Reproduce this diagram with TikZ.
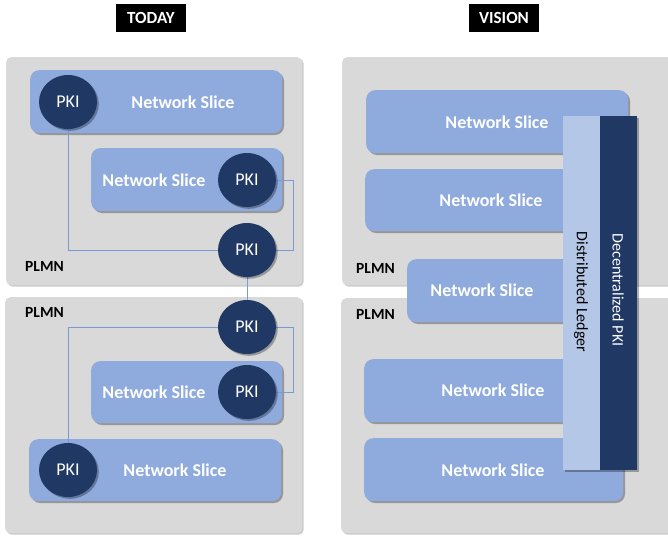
\documentclass[tikz,border=0pt]{standalone}
\usepackage{fontspec}
\setmainfont{Carlito}
\usetikzlibrary{shadows,shapes.geometric}
\definecolor{plmngray}{HTML}{D9D9D9}
\definecolor{slicefill}{HTML}{8FAADC}
\definecolor{navy}{HTML}{203864}
\definecolor{ledger}{HTML}{B4C7E7}
\definecolor{linkblue}{HTML}{7A9AD6}
\begin{document}
\begin{tikzpicture}[x=1pt,y=-1pt,
  shd/.style={drop shadow={shadow xshift=1.8pt,shadow yshift=-1.8pt,opacity=0.3,fill=black}},
  plmnbox/.style={fill=plmngray,rounded corners=5pt,inner sep=0pt,anchor=north west,
    drop shadow={shadow xshift=1.5pt,shadow yshift=-1.5pt,opacity=0.2,fill=black}},
  slicebox/.style={fill=slicefill,rounded corners=9pt,inner sep=0pt,anchor=north west,shd},
  pki/.style={ellipse,fill=navy,minimum width=58pt,minimum height=54pt,inner sep=0pt,
    text=white,font=\fontsize{18}{18}\selectfont,shd},
  slicetext/.style={text=white,font=\bfseries\fontsize{18}{20}\selectfont},
  plmntext/.style={anchor=west,inner sep=0pt,font=\bfseries\fontsize{15.5}{16}\selectfont},
  titlebox/.style={fill=black,text=white,minimum width=70pt,minimum height=28pt,inner sep=0pt,
    font=\bfseries\fontsize{17}{17}\selectfont},
  barbox/.style={inner sep=0pt,anchor=north west,minimum width=37pt,minimum height=354pt,shd},
  link/.style={draw=linkblue,line width=0.8pt}]
\clip (0,0) rectangle (668,535);
\fill[white] (0,0) rectangle (668,535);

% titles
\node[titlebox] (today) at (151,18) {TODAY};
\node[titlebox] (vision) at (504,18) {VISION};

% ---------- TODAY ----------
\node[plmnbox,minimum width=296pt,minimum height=228pt] (gl1) at (6,57) {};
\node[plmnbox,minimum width=297pt,minimum height=236pt] (gl2) at (5,297) {};
\node[plmntext] (pl1) at (25,266) {PLMN};
\node[plmntext] (pl2) at (25,312) {PLMN};

\node[slicebox,minimum width=252pt,minimum height=63pt] (s1) at (30,70) {};
\node[slicebox,minimum width=191pt,minimum height=63pt] (s2) at (91,148) {};
\node[slicebox,minimum width=191pt,minimum height=62pt] (s3) at (91,361) {};
\node[slicebox,minimum width=252pt,minimum height=62pt] (s4) at (29,439) {};

\node[slicetext] (t1) at (183,102) {Network Slice};
\node[slicetext] (t2) at (154,180) {Network Slice};
\node[slicetext] (t3) at (154,392) {Network Slice};
\node[slicetext] (t4) at (175,470) {Network Slice};

\coordinate (c1) at (293,180);
\coordinate (c2) at (293,327);
\path (68,102) coordinate (q1) (247,180) coordinate (q2) (247,250) coordinate (q3)
      (247,327) coordinate (q4) (68,470) coordinate (q5) (247,392) coordinate (q6);
\draw[link] (q1) |- (q3);
\draw[link] (q2) -- (c1) |- (q3);
\draw[link] (q3) -- (q4);
\draw[link] (q4) -| (q5);
\draw[link] (q4) -- (c2) |- (q6);

\node[pki] (p1) at (q1) {PKI};
\node[pki] (p2) at (q2) {PKI};
\node[pki] (p3) at (q3) {PKI};
\node[pki] (p4) at (q4) {PKI};
\node[pki] (p5) at (q5) {PKI};
\node[pki] (p6) at (q6) {PKI};

% ---------- VISION ----------
\node[plmnbox,minimum width=340pt,minimum height=228pt] (gr1) at (342,57) {};
\node[plmnbox,minimum width=340pt,minimum height=235pt] (gr2) at (341,298) {};
\node[plmntext] (pr1) at (356,268) {PLMN};
\node[plmntext] (pr2) at (356,314) {PLMN};

\node[slicebox,minimum width=262pt,minimum height=63pt] (r1) at (366,90) {};
\node[slicebox,minimum width=263pt,minimum height=62pt] (r2) at (365,169) {};
\node[slicebox,minimum width=221pt,minimum height=63pt] (r3) at (407,259) {};
\node[slicebox,minimum width=264pt,minimum height=63pt] (r4) at (364,359) {};
\node[slicebox,minimum width=259pt,minimum height=63pt] (r5) at (364,438) {};

\node[slicetext] (u1) at (497,122) {Network Slice};
\node[slicetext] (u2) at (491,200) {Network Slice};
\node[slicetext] (u3) at (482,290) {Network Slice};
\node[slicetext] (u4) at (493,390) {Network Slice};
\node[slicetext] (u5) at (493,470) {Network Slice};

\node[barbox,fill=ledger] (led) at (563,116) {};
\node[barbox,fill=navy] (dpk) at (600,116) {};
\node[rotate=-90,font=\fontsize{16}{16}\selectfont,text=black] (ledt) at (581,292) {Distributed Ledger};
\node[rotate=-90,font=\fontsize{16}{16}\selectfont,text=white] (dpkt) at (618,290) {Decentralized PKI};
\end{tikzpicture}
\end{document}
